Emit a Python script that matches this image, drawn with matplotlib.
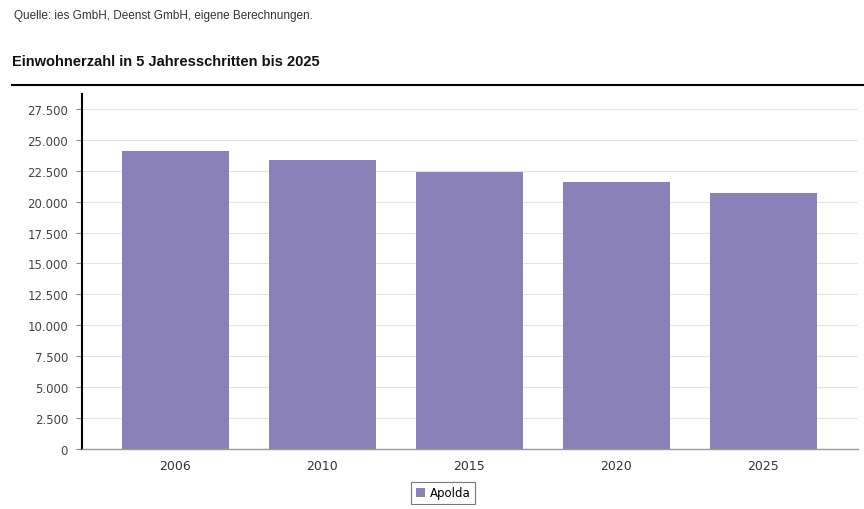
import matplotlib.pyplot as plt
from matplotlib.ticker import FuncFormatter

years = ["2006", "2010", "2015", "2020", "2025"]
einwohner = [24100, 23380, 22430, 21580, 20710]
yticks = [0, 2500, 5000, 7500, 10000, 12500, 15000, 17500, 20000, 22500, 25000, 27500]

fig = plt.figure(figsize=(8.64, 5.10), dpi=100)
ax = fig.add_axes([82/864, 1-450/510, 776/864, 355/510])

bars = ax.bar(range(len(years)), einwohner, width=0.728, color="#8b81b9", label="Apolda", zorder=2)

ax.set_xlim(-0.636, 4.643)
ax.set_ylim(0, 28700)
ax.set_yticks(yticks)
# deutsches Tausendertrennzeichen
ax.yaxis.set_major_formatter(FuncFormatter(lambda v, p: "{:,.0f}".format(v).replace(",", ".")))
ax.set_xticks(range(len(years)))
ax.set_xticklabels(years)
ax.grid(axis="y", color="#e4e4e4", linewidth=0.8, zorder=0)
ax.tick_params(axis="y", length=4, width=0.8, color="#888888", labelsize=8.5, labelcolor="#444444", pad=6)
ax.tick_params(axis="x", length=0, labelsize=9, labelcolor="#333333", pad=7)
for s in ["top", "right"]:
    ax.spines[s].set_visible(False)
ax.spines["left"].set_color("black")
ax.spines["left"].set_linewidth(1.5)
ax.spines["bottom"].set_color("#999999")
ax.spines["bottom"].set_linewidth(1.0)

fig.text(14/864, 1-16/510, "Quelle: ies GmbH, Deenst GmbH, eigene Berechnungen.", fontsize=8.5,
         family="Liberation Sans", color="#333333", va="center")
fig.text(12/864, 1-62/510, "Einwohnerzahl in 5 Jahresschritten bis 2025", fontsize=10.5,
         family="Liberation Sans", fontweight="bold", color="#111111", va="center")
fig.add_artist(plt.Line2D([12/864, 1.0], [1-86/510, 1-86/510], color="black", linewidth=1.5))

leg = fig.legend(loc="center", bbox_to_anchor=(443/864, 1-494/510), fontsize=8.5, handlelength=0.8, handleheight=0.8,
                 handletextpad=0.4, borderpad=0.4, fancybox=False, edgecolor="#555555")
leg.get_frame().set_linewidth(0.8)

fig.savefig("out.png", dpi=100)
